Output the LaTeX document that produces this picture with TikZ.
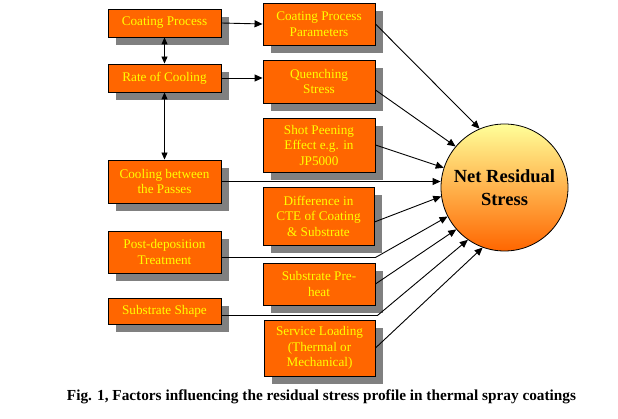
\documentclass[tikz,border=0pt]{standalone}
\usepackage{fontspec}
\setmainfont{Liberation Serif}
\usetikzlibrary{shadows,arrows.meta,calc}
\definecolor{boxorange}{RGB}{255,102,0}
\definecolor{boxtext}{RGB}{255,255,0}
\definecolor{shadowgray}{RGB}{128,128,128}
\definecolor{circtop}{RGB}{255,255,153}
\begin{document}
\begin{tikzpicture}[x=1pt,y=-1pt,
  factor/.style={draw=black, line width=0.9pt, fill=boxorange, text=boxtext, align=center,
    inner sep=0pt, font=\fontsize{13.2}{15.5}\selectfont,
    drop shadow={shadow xshift=8pt, shadow yshift=-8pt, fill=shadowgray, opacity=1}},
  link/.style={line width=0.9pt, -{Triangle[length=8pt,width=7pt]}},
  dlink/.style={line width=0.9pt, {Triangle[length=7pt,width=6pt]}-{Triangle[length=7pt,width=6pt]}},
]
\fill[white] (0,0) rectangle (618,419);
\useasboundingbox (0,0) rectangle (618,419);

% left column
\node[factor, minimum width=113pt, minimum height=28pt] (CP) at (164.5,23) {Coating Process};
\node[factor, minimum width=113pt, minimum height=28pt] (RC) at (164.5,78) {Rate of Cooling};
\node[factor, minimum width=113pt, minimum height=43pt] (CB) at (164.5,181.5) {Cooling between\\the Passes};
\node[factor, minimum width=113pt, minimum height=42pt] (PD) at (164.5,252) {Post-deposition\\Treatment};
\node[factor, minimum width=113pt, minimum height=26pt] (SS) at (164.5,311) {Substrate Shape};

% middle column
\node[factor, minimum width=112pt, minimum height=42pt] (CPP) at (319,24) {Coating Process\\Parameters};
\node[factor, minimum width=112pt, minimum height=43pt] (QS) at (319,81.5) {Quenching\\Stress};
\node[factor, minimum width=112pt, minimum height=54pt] (SP) at (319,145) {Shot Peening\\Effect e.g. in\\JP5000};
\node[factor, minimum width=111pt, minimum height=58pt] (DC) at (318.5,216) {Difference in\\CTE of Coating\\\& Substrate};
\node[factor, minimum width=112pt, minimum height=42pt] (SPH) at (319,284) {Substrate Pre-\\heat};
\node[factor, minimum width=111pt, minimum height=56pt] (SL) at (319.5,348) {Service Loading\\(Thermal or\\Mechanical)};

% result circle
\node[circle, draw=black, line width=0.8pt, minimum size=127pt, inner sep=0pt,
  top color=circtop, bottom color=boxorange, align=center,
  font=\bfseries\fontsize{18.5}{23}\selectfont] (NRS) at (504.5,187.5) {Net Residual\\Stress};

% caption
\node[font=\bfseries\fontsize{15.3}{18}\selectfont] (cap) at (321.5,397)
  {Fig. 1, Factors influencing the residual stress profile in thermal spray coatings};

% connectors
\draw[link] (CP.east) -- (CPP.west);
\draw[link] (RC.east) -- (QS.west |- RC.east);
\draw[dlink] (CP.south) -- (RC.north);
\draw[dlink] (RC.south) -- (CB.north);

\coordinate (qsout) at ([yshift=-8.5pt]QS.east);
\coordinate (dcout) at ([yshift=-6pt]DC.east);
\coordinate (pdout) at ([yshift=-5.5pt]PD.east);
\coordinate (ssout) at ([yshift=-4.5pt]SS.east);

\draw[link] (CPP.east) -- (NRS.113);
\draw[link] (qsout) -- (NRS.140);
\draw[link] (SP.east) -- (NRS.162);
\draw[link] (CB.east) -- (NRS.west |- CB.east);
\draw[link] (dcout) -- (NRS.188.5);
\draw[link] (pdout) -- (pdout -| SPH.east) -- (NRS.207.5);
\draw[link] (SPH.east) -- (NRS.221);
\draw[link] (ssout) -- ([xshift=2pt]ssout -| SL.east) -- (NRS.235);
\draw[link] (SL.east) -- (NRS.250);
\end{tikzpicture}
\end{document}
